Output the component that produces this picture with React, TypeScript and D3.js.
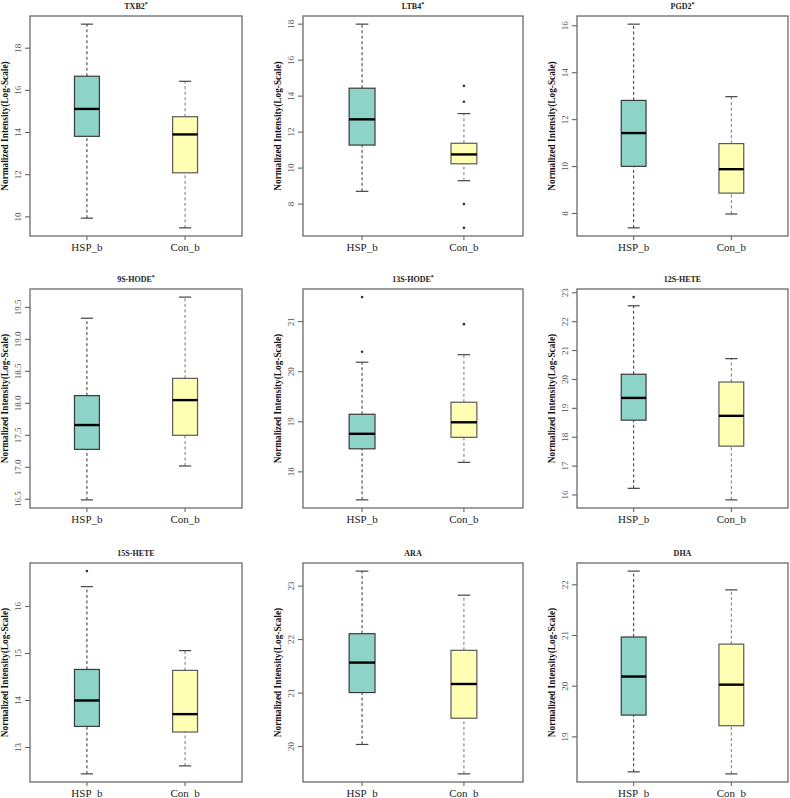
import React from "react";
import * as d3 from "d3";

const titles = ["TXB2", "LTB4", "PGD2", "9S-HODE", "13S-HODE", "12S-HETE", "15S-HETE", "ARA", "DHA"];
const starred = [true, true, true, true, true, false, false, false, false];
const groups = ["HSP_b", "Con_b"];

// [lower whisker, Q1, median, Q3, upper whisker]
const hspStats = [
  [9.94, 13.82, 15.12, 16.67, 19.14],
  [8.71, 11.28, 12.71, 14.44, 18.0],
  [7.39, 10.01, 11.43, 12.82, 16.07],
  [16.49, 17.28, 17.66, 18.12, 19.33],
  [17.44, 18.46, 18.76, 19.15, 20.19],
  [16.23, 18.59, 19.36, 20.18, 22.55],
  [12.44, 13.45, 14.0, 14.66, 16.42],
  [20.04, 21.01, 21.57, 22.11, 23.28],
  [18.31, 19.43, 20.19, 20.97, 22.27],
];
const conStats = [
  [9.48, 12.09, 13.91, 14.75, 16.43],
  [9.3, 10.24, 10.76, 11.38, 13.03],
  [7.98, 8.87, 9.89, 10.98, 12.98],
  [17.02, 17.5, 18.05, 18.39, 19.66],
  [18.19, 18.69, 18.99, 19.39, 20.34],
  [15.83, 17.69, 18.74, 19.91, 20.72],
  [12.61, 13.33, 13.71, 14.64, 15.06],
  [19.49, 20.53, 21.17, 21.8, 22.83],
  [18.27, 19.22, 20.03, 20.83, 21.9],
];
const hspOutliers = [[], [], [], [], [21.49, 20.4], [22.85], [16.75], [], []];
const conOutliers = [[], [14.57, 13.69, 8.0, 6.68], [], [], [20.95], [], [], [], []];
const yTicks = [
  [10, 12, 14, 16, 18],
  [8, 10, 12, 14, 16, 18],
  [8, 10, 12, 14, 16],
  [16.5, 17.0, 17.5, 18.0, 18.5, 19.0, 19.5],
  [18, 19, 20, 21],
  [16, 17, 18, 19, 20, 21, 22, 23],
  [13, 14, 15, 16],
  [20, 21, 22, 23],
  [19, 20, 21, 22],
];
const tickDecimals = [0, 0, 0, 1, 0, 0, 0, 0, 0];

const colLeft = [30, 303, 577];
const colRight = [242, 523, 788];
const rowTop = [16, 289, 563];
const rowBottom = [236, 508, 782];

const fills = ["#8DD3C7", "#FFFFB3"];
const boxStroke = ["#3a3a3a", "#5a5a5a"];
const whiskStroke = ["#333333", "#777777"];
const FONT = "'Liberation Serif', 'Times New Roman', serif";

function Panel({ i }: { i: number }) {
  const col = i % 3;
  const row = Math.floor(i / 3);
  const L = colLeft[col], R = colRight[col], T = rowTop[row], B = rowBottom[row];
  const stats = [hspStats[i], conStats[i]];
  const outs = [hspOutliers[i], conOutliers[i]];
  const all = [...stats[0], ...stats[1], ...outs[0], ...outs[1]];
  const [mn, mx] = d3.extent(all) as [number, number];
  const ext = (mx - mn) * 0.04;
  const y = d3.scaleLinear().domain([mn - ext, mx + ext]).range([B, T]);
  const x = d3.scaleLinear().domain([0.42, 2.58]).range([L, R]);
  const bw = 0.127;
  const cw = 0.062;
  const fmt = d3.format(tickDecimals[i] ? ".1f" : "d");
  const cy = (T + B) / 2;
  return (
    <g>
      <text x={(L + R) / 2} y={T - 7.5} textAnchor="middle" fontFamily={FONT} fontWeight="bold" fontSize={8} fill="#222">
        {titles[i]}
        {starred[i] ? <tspan dy={-3} fontSize={6}>*</tspan> : null}
      </text>
      <text
        transform={`translate(${L - 22},${cy}) rotate(-90)`}
        textAnchor="middle"
        fontFamily={FONT}
        fontWeight="bold"
        fontSize={9.3}
        fill="#111"
      >
        Normalized Intensity(Log-Scale)
      </text>
      {yTicks[i].map((t) => (
        <g key={t}>
          <line x1={L - 5} x2={L} y1={y(t)} y2={y(t)} stroke="#555" strokeWidth={1} />
          <text
            transform={`translate(${L - 9},${y(t)}) rotate(-90)`}
            textAnchor="middle"
            fontFamily={FONT}
            fontSize={9}
            fill="#555"
          >
            {fmt(t)}
          </text>
        </g>
      ))}
      {groups.map((g, k) => {
        const s = stats[k];
        const cx = x(k + 1);
        return (
          <g key={g}>
            <line x1={cx} x2={cx} y1={y(s[3])} y2={y(s[4])} stroke={whiskStroke[k]} strokeWidth={1} strokeDasharray="3,2.5" />
            <line x1={cx} x2={cx} y1={y(s[0])} y2={y(s[1])} stroke={whiskStroke[k]} strokeWidth={1} strokeDasharray="3,2.5" />
            <line x1={x(k + 1 - cw)} x2={x(k + 1 + cw)} y1={y(s[4])} y2={y(s[4])} stroke="#444" strokeWidth={1.2} />
            <line x1={x(k + 1 - cw)} x2={x(k + 1 + cw)} y1={y(s[0])} y2={y(s[0])} stroke="#444" strokeWidth={1.2} />
            <rect
              x={x(k + 1 - bw)}
              width={x(k + 1 + bw) - x(k + 1 - bw)}
              y={y(s[3])}
              height={y(s[1]) - y(s[3])}
              fill={fills[k]}
              stroke={boxStroke[k]}
              strokeWidth={1.2}
            />
            <line x1={x(k + 1 - bw)} x2={x(k + 1 + bw)} y1={y(s[2])} y2={y(s[2])} stroke="#000" strokeWidth={2.4} />
            {outs[k].map((o, j) => (
              <circle key={j} cx={cx} cy={y(o)} r={1.3} fill="#333" />
            ))}
            <line x1={cx} x2={cx} y1={B} y2={B + 4} stroke="#555" strokeWidth={1} />
            <text x={cx} y={B + 15} textAnchor="middle" fontFamily={FONT} fontSize={11} fill="#222">
              {g}
            </text>
          </g>
        );
      })}
      <rect x={L} y={T} width={R - L} height={B - T} fill="none" stroke="#6a6a6a" strokeWidth={1.3} />
    </g>
  );
}

export default function App() {
  return (
    <svg width={790} height={798} style={{ position: "absolute", left: 0, top: 0, background: "#fff" }}>
      <rect width={790} height={798} fill="#fff" />
      {titles.map((_, i) => (
        <Panel key={i} i={i} />
      ))}
    </svg>
  );
}
